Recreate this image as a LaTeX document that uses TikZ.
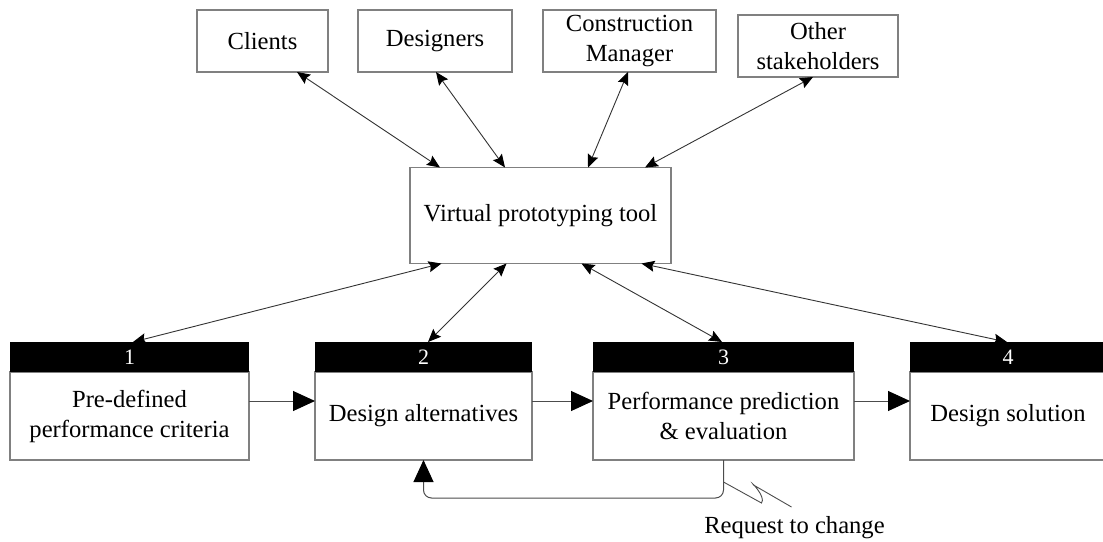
\documentclass[tikz,border=0pt]{standalone}
\usepackage{fontspec}
\setmainfont{Liberation Serif}
\usetikzlibrary{positioning, arrows.meta, calc}

\begin{document}
\begin{tikzpicture}[
    x=1pt, y=-1pt,          % 1 単位 = 1 ピクセル（下向き）
    font=\fontsize{24.6pt}{30pt}\selectfont,
    box/.style={draw=black!50, line width=1.2pt, inner sep=0pt, outer sep=0pt,
                align=center, minimum height=62pt},
    stage/.style={draw=black!50, line width=1.2pt, inner sep=0pt, outer sep=0pt,
                  align=center, minimum height=88pt},
    stagehead/.style={fill=black, text=white, inner sep=0pt, outer sep=0pt,
                      minimum height=30pt, font=\fontsize{22pt}{26pt}\selectfont},
    link/.style={{Stealth[length=13pt,width=11pt,inset=2pt,color=black]}-{Stealth[length=13pt,width=11pt,inset=2pt,color=black]},
                 draw=black!80, line width=0.9pt},
    flow/.style={-{Triangle[length=22pt,width=20pt,color=black]}, draw=black!70, line width=1pt},
    leader/.style={draw=black!70, line width=0.9pt}
]
    \clip (0,0) rectangle (1103,541);

    % --- 1. 関係者のボックス ---
    \node [box, minimum width=131pt] (clients)   at (262.5,41) {Clients};
    \node [box, minimum width=154pt] (designers) at (435,41)   {Designers};
    \node [box, minimum width=173pt] (cm)        at (629.5,41) {Construction\\Manager};
    \node [box, minimum width=160pt] (others)    at (818,46)   {Other\\stakeholders};

    % 中央のツール
    \node [box, minimum width=261pt, minimum height=96pt] (vpt) at (540.5,215.5) {Virtual prototyping tool};

    % --- 2. 設計プロセスの各段階 ---
    \node [stage, minimum width=239pt] (s1) at (129.5,416) {Pre-defined\\performance criteria};
    \node [stage, minimum width=217pt] (s2) at (423.5,416) {Design alternatives};
    \node [stage, minimum width=261pt] (s3) at (723.5,416) {Performance prediction\\\& evaluation};
    \node [stage, minimum width=196pt] (s4) at (1008,416)  {Design solution};

    % 黒い見出し帯（番号）
    \node [stagehead, minimum width=239pt, above=0pt of s1] (h1) {1};
    \node [stagehead, minimum width=217pt, above=0pt of s2] (h2) {2};
    \node [stagehead, minimum width=261pt, above=0pt of s3] (h3) {3};
    \node [stagehead, minimum width=196pt, above=0pt of s4] (h4) {4};

    % --- 3. ツールとの双方向矢印 ---
    \draw [link] ([xshift=34.5pt]clients.south) -- ([xshift=-100.5pt]vpt.north);
    \draw [link] ([xshift=1pt]designers.south)  -- ([xshift=-35.5pt]vpt.north);
    \draw [link] ([xshift=-1.5pt]cm.south)      -- ([xshift=47.5pt]vpt.north);
    \draw [link] ([xshift=-5pt]others.south)    -- ([xshift=104.5pt]vpt.north);

    \draw [link] ([xshift=-99pt]vpt.south) -- ([xshift=3.5pt]h1.north);
    \draw [link] ([xshift=-34pt]vpt.south) -- ([xshift=4.5pt]h2.north);
    \draw [link] ([xshift=41pt]vpt.south)  -- ([xshift=-1.5pt]h3.north);
    \draw [link] ([xshift=101pt]vpt.south) -- ([xshift=-1pt]h4.north);

    % --- 4. 流れの矢印とフィードバック ---
    \draw [flow] ([yshift=15pt]s1.east) -- ([yshift=15pt]s2.west);
    \draw [flow] ([yshift=15pt]s2.east) -- ([yshift=15pt]s3.west);
    \draw [flow] ([yshift=15pt]s3.east) -- ([yshift=15pt]s4.west);

    \draw [flow, rounded corners=8pt] (s3.south) -- ++(0,38) -| (s2.south);

    % 変更要求の引き出し線
    \coordinate (tap) at ([yshift=-22pt]s3.south);
    \draw [leader] (tap) -- ++(38,21) .. controls +(5,-6) and +(-4,-5) .. ++(-8,-18) -- ++(38,22);
    \node (req) at (794.5,528) {Request to change};

\end{tikzpicture}
\end{document}
